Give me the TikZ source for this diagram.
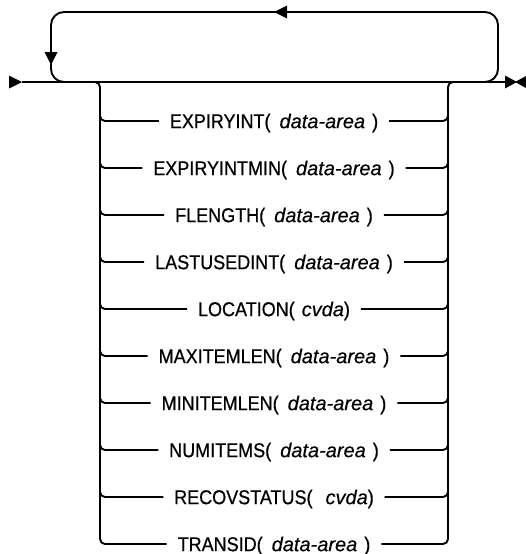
\documentclass[tikz,border=0pt]{standalone}
\usepackage{fontspec}
\setmainfont{Liberation Sans}[FakeStretch=0.9,FakeBold=0.6]
\newfontfamily\argfont{Liberation Sans}[FakeBold=0.3]
\usetikzlibrary{arrows.meta}
\newcommand\darea{\hspace{9pt}{\argfont\itshape data-area}\hspace{7pt})}
\newcommand\cvdaarg[1]{\hspace{#1}{\argfont\itshape cvda})}
\begin{document}
\begin{tikzpicture}[x=1pt,y=-1pt, line width=1.9pt,
  lbl/.style={font=\fontsize{20}{23}\selectfont, text height=14.3pt, text depth=0pt, inner xsep=10pt, inner ysep=0pt},
  rail/.style={rounded corners=5pt},
  loopline/.style={rounded corners=13pt}]
\useasboundingbox (0,0) rectangle (526,554);
% main line
\coordinate (start) at (22,82);
\coordinate (finish) at (507,82);
\fill (9,75.5) -- (start) -- (9,88.5) -- cycle;
\draw (start) -- (finish);
\coordinate (endtip) at (517,82);
\fill (505,75.5) -- (endtip) -- (505,88.5) -- cycle;
\fill (527,75.5) -- (515,82) -- (527,88.5) -- cycle;
% repeat loop
\coordinate (loopR) at (470,82);
\coordinate (loopL) at (80,82);
\draw[loopline] (loopR) -- (498,82) -- (498,12) -- (51,12) -- (51,82) -- (loopL);
\coordinate (toptip) at (274,12);
\fill (toptip) -- (287,5.5) -- (287,18.5) -- cycle;
\coordinate (lefttip) at (51,65);
\fill (lefttip) -- (44.5,52) -- (57.5,52) -- cycle;
% options
\foreach \t [count=\i] in {
  EXPIRYINT(\darea,
  EXPIRYINTMIN(\darea,
  FLENGTH(\darea,
  LASTUSEDINT(\darea,
  LOCATION(\cvdaarg{7pt},
  MAXITEMLEN(\darea,
  MINITEMLEN(\darea,
  NUMITEMS(\darea,
  RECOVSTATUS(\cvdaarg{13pt},
  TRANSID(\darea}
  { \node[lbl] (r\i) at (274,{121+47*(\i-1)}) {\t}; }
\coordinate (brL) at (90,82);
\coordinate (brR) at (458,82);
\draw[rail] (brL) -- (100,82) -- (100,544) -- (r10.west);
\draw[rail] (r10.east) -- (448,544) -- (448,82) -- (brR);
\foreach \i in {1,...,9} {
  \draw[rail] (100,{121+47*(\i-1)-12}) |- (r\i.west);
  \draw[rail] (r\i.east) -| (448,{121+47*(\i-1)-12});
}
\end{tikzpicture}
\end{document}
